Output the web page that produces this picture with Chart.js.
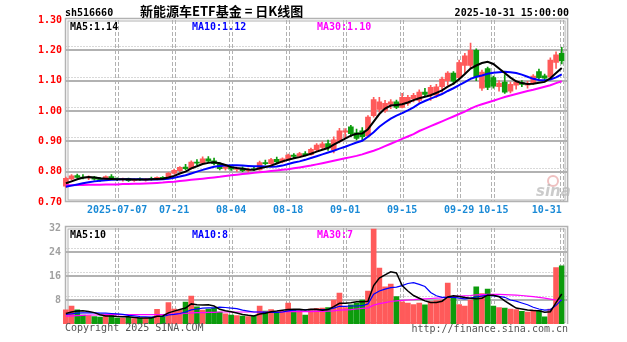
<!DOCTYPE html>
<html lang="zh-CN">
<head>
<meta charset="UTF-8">
<title>sh516660 日K线图</title>
<script src="https://cdn.jsdelivr.net/npm/chart.js@4"></script>
<style>
  body { margin: 0; background: #fff; }
  .wrap { position: relative; width: 627px; height: 342px; }
  #kline { position: absolute; left: 0; top: 0; }
  #volume { position: absolute; left: 0; top: 215px; }
</style>
</head>
<body>
<div class="wrap">
  <canvas id="kline" width="627" height="215"></canvas>
  <canvas id="volume" width="627" height="127"></canvas>
</div>
<script>
// quote header
const symbol = 'sh516660';
const chartTitle = '新能源车ETF基金 = 日K线图';
const quoteTime = '2025-10-31 15:00:00';

// trading days
const dates = [
  '2025-06-24','2025-06-25','2025-06-26','2025-06-27','2025-06-30',
  '2025-07-01','2025-07-02','2025-07-03','2025-07-04',
  '2025-07-07','2025-07-08','2025-07-09','2025-07-10','2025-07-11',
  '2025-07-14','2025-07-15','2025-07-16','2025-07-17','2025-07-18',
  '2025-07-21','2025-07-22','2025-07-23','2025-07-24','2025-07-25',
  '2025-07-28','2025-07-29','2025-07-30','2025-07-31','2025-08-01',
  '2025-08-04','2025-08-05','2025-08-06','2025-08-07','2025-08-08',
  '2025-08-11','2025-08-12','2025-08-13','2025-08-14','2025-08-15',
  '2025-08-18','2025-08-19','2025-08-20','2025-08-21','2025-08-22',
  '2025-08-25','2025-08-26','2025-08-27','2025-08-28','2025-08-29',
  '2025-09-01','2025-09-02','2025-09-03','2025-09-04','2025-09-05',
  '2025-09-08','2025-09-09','2025-09-10','2025-09-11','2025-09-12',
  '2025-09-15','2025-09-16','2025-09-17','2025-09-18','2025-09-19',
  '2025-09-22','2025-09-23','2025-09-24','2025-09-25','2025-09-26',
  '2025-09-29','2025-09-30','2025-10-09','2025-10-10',
  '2025-10-13','2025-10-14','2025-10-15','2025-10-16','2025-10-17',
  '2025-10-20','2025-10-21','2025-10-22','2025-10-23','2025-10-24',
  '2025-10-27','2025-10-28','2025-10-29','2025-10-30','2025-10-31'
];

// dates that get a tick label and a vertical grid line
const labelDates = ['2025-07-07','2025-07-21','2025-08-04','2025-08-18','2025-09-01',
                    '2025-09-15','2025-09-29','2025-10-15','2025-10-31'];
const tickLabels = ['2025-07-07','07-21','08-04','08-18','09-01','09-15','09-29','10-15','10-31'];

const priceTicks = [0.70, 0.80, 0.90, 1.00, 1.10, 1.20, 1.30];
const volumeTicks = [0, 8, 16, 24, 32];

const open = [
  .752,.776,.787,.782,.779,.782,.775,.771,.784,.776,
  .774,.777,.770,.775,.772,.776,.774,.780,.779,.795,
  .803,.815,.810,.831,.828,.842,.836,.825,.811,.816,
  .807,.812,.803,.808,.806,.830,.826,.841,.832,.842,
  .855,.850,.860,.856,.872,.880,.893,.872,.900,.930,
  .948,.928,.935,.918,.985,1.005,1.000,1.022,1.030,1.012,
  1.025,1.040,1.035,1.062,1.055,1.052,1.080,1.100,1.125,1.110,
  1.150,1.150,1.200,1.075,1.140,1.110,1.080,1.095,1.065,1.085,
  1.094,1.085,1.092,1.130,1.116,1.112,1.160,1.190
];
const high = [
  .782,.790,.792,.790,.786,.785,.781,.786,.790,.780,
  .779,.779,.777,.780,.778,.782,.783,.784,.797,.808,
  .817,.824,.836,.840,.849,.850,.845,.830,.822,.820,
  .815,.816,.812,.814,.835,.838,.844,.848,.846,.858,
  .860,.864,.866,.878,.893,.898,.904,.915,.943,.942,
  .953,.940,.945,.985,1.045,1.045,1.035,1.038,1.036,1.058,
  1.052,1.058,1.070,1.075,1.085,1.088,1.112,1.130,1.130,1.168,
  1.190,1.224,1.205,1.135,1.145,1.115,1.100,1.120,1.095,1.100,
  1.100,1.098,1.120,1.138,1.122,1.175,1.195,1.210
];
const low = [
  .748,.772,.779,.776,.774,.772,.768,.770,.774,.770,
  .769,.768,.768,.771,.769,.772,.773,.774,.778,.792,
  .800,.806,.808,.822,.826,.830,.822,.806,.805,.804,
  .801,.800,.798,.803,.805,.822,.824,.828,.829,.838,
  .846,.847,.852,.854,.868,.876,.870,.862,.895,.912,
  .915,.905,.904,.915,.980,.996,.995,1.008,1.008,1.010,
  1.018,1.030,1.028,1.050,1.035,1.045,1.062,1.085,1.088,1.105,
  1.125,1.140,1.100,1.068,1.070,1.075,1.065,1.058,1.060,1.072,
  1.080,1.075,1.088,1.105,1.100,1.110,1.140,1.155
];
const close = [
  .778,.786,.781,.779,.783,.775,.771,.784,.776,.774,
  .777,.770,.775,.773,.776,.774,.781,.778,.795,.804,
  .814,.810,.832,.828,.842,.835,.826,.810,.816,.808,
  .812,.803,.808,.806,.830,.826,.840,.832,.842,.855,
  .850,.860,.856,.874,.888,.892,.878,.905,.935,.935,
  .925,.910,.915,.980,1.038,1.030,1.025,1.030,1.012,1.045,
  1.045,1.052,1.062,1.055,1.078,1.080,1.105,1.125,1.098,1.160,
  1.182,1.200,1.112,1.128,1.078,1.082,1.092,1.062,1.088,1.095,
  1.088,1.090,1.115,1.110,1.108,1.168,1.185,1.165
];

// price moving averages
const ma5 = [
  .762,.768,.775,.780,.782,.781,.778,.777,.776,.775,
  .775,.775,.774,.774,.774,.775,.776,.777,.781,.786,
  .794,.800,.811,.818,.825,.829,.831,.828,.822,.815,
  .812,.810,.807,.806,.811,.815,.820,.827,.834,.839,
  .844,.848,.853,.859,.866,.872,.878,.889,.899,.909,
  .919,.925,.926,.940,.965,.990,1.008,1.018,1.020,1.022,
  1.028,1.036,1.042,1.047,1.052,1.060,1.068,1.080,1.090,1.105,
  1.122,1.140,1.150,1.158,1.162,1.155,1.140,1.125,1.110,1.098,
  1.092,1.089,1.090,1.093,1.096,1.108,1.125,1.142
];
const ma10 = [
  .750,.754,.758,.762,.765,.768,.770,.772,.773,.774,
  .775,.775,.775,.775,.774,.774,.774,.775,.777,.780,
  .784,.788,.794,.800,.806,.811,.816,.819,.820,.821,
  .821,.820,.819,.818,.818,.817,.816,.817,.820,.825,
  .830,.834,.839,.845,.851,.857,.863,.869,.876,.882,
  .889,.896,.902,.915,.930,.948,.962,.975,.985,.993,
  1.002,1.012,1.024,1.033,1.041,1.048,1.056,1.066,1.075,1.085,
  1.095,1.106,1.113,1.117,1.123,1.126,1.128,1.129,1.128,1.125,
  1.120,1.113,1.106,1.102,1.101,1.104,1.111,1.121
];
const ma30 = [
  .755,.755,.756,.756,.757,.757,.757,.758,.758,.758,
  .759,.759,.760,.760,.761,.762,.763,.764,.766,.767,
  .769,.771,.773,.775,.777,.779,.781,.783,.786,.788,
  .790,.792,.794,.796,.798,.800,.802,.804,.806,.808,
  .811,.814,.817,.820,.824,.828,.832,.836,.840,.844,
  .848,.852,.857,.863,.869,.876,.884,.892,.900,.908,
  .916,.924,.934,.942,.950,.958,.966,.974,.982,.990,
  .998,1.008,1.016,1.022,1.028,1.034,1.040,1.046,1.051,1.056,
  1.061,1.066,1.070,1.075,1.080,1.085,1.092,1.098
];

// volume (万手) and its averages
const volume = [
  4.7,6.0,4.7,3.0,2.8,2.5,2.3,3.0,2.8,2.0,
  2.0,2.2,1.8,2.0,1.9,2.2,4.9,2.5,7.1,5.0,
  4.6,7.3,9.3,5.7,4.6,5.0,5.2,4.0,3.4,3.0,
  2.8,2.6,2.5,2.7,6.0,4.3,4.8,3.8,4.2,7.0,
  4.6,4.7,3.0,5.0,5.2,5.3,5.5,8.0,10.3,5.5,
  6.4,7.0,8.0,11.0,31.6,18.6,12.4,13.3,9.1,7.4,
  7.0,6.5,7.0,6.4,7.5,7.8,8.0,13.6,9.1,6.5,
  6.0,8.0,12.4,10.1,11.6,6.0,5.5,5.3,5.0,4.8,
  4.2,4.0,4.6,4.5,2.4,5.0,18.8,19.4
];
const volMa5 = [
  3.5,4.0,4.3,4.4,4.2,3.8,3.1,2.7,2.7,2.5,
  2.4,2.4,2.2,2.0,2.0,2.0,2.6,2.7,3.7,4.3,
  4.8,5.3,6.7,6.4,6.3,6.4,6.0,4.9,4.4,4.1,
  3.7,3.2,2.9,2.7,3.3,3.6,4.1,4.3,4.6,4.8,
  4.9,4.9,4.7,4.9,4.9,4.6,4.8,5.8,6.9,6.9,
  7.1,7.4,7.4,7.6,12.8,15.3,16.4,17.4,17.0,12.8,
  11.0,9.5,8.6,7.7,7.2,7.2,7.6,9.0,9.4,9.2,
  8.8,8.6,8.4,8.6,9.6,9.6,9.1,7.7,6.5,5.3,
  5.0,4.7,4.5,4.4,3.9,4.1,7.1,10.0
];
const volMa10 = [
  3.2,3.4,3.6,3.7,3.7,3.7,3.6,3.6,3.5,3.4,
  3.2,2.9,2.7,2.5,2.4,2.3,2.5,2.5,3.0,3.2,
  3.5,4.0,4.7,5.0,5.3,5.4,5.4,5.6,5.5,5.3,
  5.1,4.6,4.3,4.0,4.0,3.9,3.9,3.9,4.0,4.4,
  4.6,4.8,4.7,4.8,4.8,4.8,4.9,5.3,5.9,5.9,
  6.0,6.0,6.1,6.7,9.9,11.0,11.6,12.1,12.3,12.8,
  13.5,13.8,13.2,12.5,10.5,9.4,8.9,8.9,8.9,8.6,
  8.4,8.6,9.0,9.3,9.6,9.4,9.2,8.9,8.0,7.6,
  7.0,6.4,5.6,5.0,4.6,4.8,6.2,8.1
];
const volMa30 = [
  2.6,2.7,2.8,2.9,3.0,3.0,3.0,3.1,3.1,3.1,
  3.1,3.1,3.1,3.1,3.1,3.1,3.1,3.1,3.2,3.3,
  3.4,3.5,3.7,3.8,3.8,3.9,3.9,4.0,4.0,4.0,
  4.0,4.0,4.0,4.0,4.0,4.0,4.0,4.0,4.0,4.1,
  4.1,4.1,4.1,4.1,4.2,4.2,4.3,4.4,4.6,4.7,
  4.8,5.0,5.2,5.4,6.3,6.8,7.1,7.5,7.7,7.9,
  8.0,8.1,8.3,8.4,8.5,8.6,8.7,9.0,9.2,9.3,
  9.4,9.5,9.7,9.8,9.9,9.9,9.9,9.8,9.7,9.6,
  9.5,9.3,9.1,8.9,8.6,8.3,8.0,7.9
];

const UP = '#ff5a5a', DOWN = '#0c9c0c';
const GRID = '#b2b2b2';
const MONO = 'bold 10px "DejaVu Sans Mono"';
const candleColor = dates.map((d, i) => close[i] >= open[i] ? UP : DOWN);
const last = arr => arr[arr.length - 1];

function seg(ctx, x1, y1, x2, y2) {
  ctx.beginPath();
  ctx.moveTo(x1, y1);
  ctx.lineTo(x2, y2);
  ctx.stroke();
}

// grid: solid + dotted horizontal pairs, dashed double verticals, double frame
const panelGrid = {
  id: 'panelGrid',
  beforeDatasetsDraw(chart, args, opts) {
    const { ctx, chartArea: a, scales: { x, y } } = chart;
    const L = a.left + 2.5, R = a.right + 3;
    ctx.save();
    ctx.strokeStyle = GRID;
    y.ticks.forEach(t => {
      const py = Math.round(y.getPixelForValue(t.value));
      if (py <= a.top + 3 || py >= a.bottom - 3) return;
      ctx.setLineDash([]);
      ctx.lineWidth = 2;
      seg(ctx, L, py, R, py);
      ctx.lineWidth = 1;
      ctx.setLineDash([1, 2]);
      seg(ctx, L, py - 3.5, R, py - 3.5);
    });
    ctx.lineWidth = 1;
    ctx.setLineDash([4, 2]);
    labelDates.forEach(d => {
      const px = Math.round(x.getPixelForValue(dates.indexOf(d)));
      seg(ctx, px - 1.5, a.top, px - 1.5, a.bottom);
      seg(ctx, px + 1.5, a.top, px + 1.5, a.bottom);
    });
    ctx.setLineDash([]);
    ctx.lineWidth = 1.5;
    const top = a.top - 1.5, bottom = opts.openBottom ? a.bottom : a.bottom - 0.5;
    ctx.beginPath();
    ctx.moveTo(L, bottom);
    ctx.lineTo(L, top);
    ctx.lineTo(R, top);
    ctx.lineTo(R, bottom);
    if (!opts.openBottom) ctx.closePath();
    ctx.stroke();
    ctx.lineWidth = 1;
    ctx.strokeRect(L + 2.5, top + 2.5, R - L - 5, bottom - top - 4);
    ctx.restore();
  }
};

// header line, MA readouts and watermark of the price panel
const priceText = {
  id: 'priceText',
  afterDraw(chart) {
    const { ctx } = chart;
    ctx.save();
    ctx.textBaseline = 'alphabetic';
    ctx.font = MONO;
    ctx.fillStyle = '#000';
    ctx.fillText(symbol, 65, 16);
    ctx.font = 'bold 13px "Noto Sans CJK SC"';
    ctx.fillText(chartTitle, 140, 16);
    ctx.font = MONO;
    ctx.textAlign = 'right';
    ctx.fillText(quoteTime, 569, 16);
    ctx.textAlign = 'left';
    ctx.fillStyle = '#000';
    ctx.fillText('MA5:' + last(ma5).toFixed(2), 70, 30);
    ctx.fillStyle = '#0000ff';
    ctx.fillText('MA10:' + last(ma10).toFixed(2), 192, 30);
    ctx.fillStyle = '#ff00ff';
    ctx.fillText('MA30:' + last(ma30).toFixed(2), 317, 30);
    // sina watermark
    ctx.strokeStyle = 'rgba(225,140,140,0.55)';
    ctx.lineWidth = 2;
    ctx.beginPath();
    ctx.arc(553, 181, 5, 0, Math.PI * 2);
    ctx.stroke();
    ctx.font = 'italic bold 15px "DejaVu Sans"';
    ctx.fillStyle = 'rgba(185,185,185,0.75)';
    ctx.fillText('sina', 536, 196);
    ctx.restore();
  }
};

// MA readouts of the volume panel and the footer
const volumeText = {
  id: 'volumeText',
  afterDraw(chart) {
    const { ctx, chartArea: a } = chart;
    ctx.save();
    ctx.font = MONO;
    ctx.textBaseline = 'alphabetic';
    ctx.fillStyle = '#000';
    ctx.fillText('MA5:' + Math.floor(last(volMa5)), 70, 23);
    ctx.fillStyle = '#0000ff';
    ctx.fillText('MA10:' + Math.floor(last(volMa10)), 192, 23);
    ctx.fillStyle = '#ff00ff';
    ctx.fillText('MA30:' + Math.floor(last(volMa30)), 317, 23);
    ctx.font = '10px "DejaVu Sans Mono"';
    ctx.fillStyle = '#555';
    ctx.fillText('Copyright 2025 SINA.COM', 65, a.bottom + 7);
    ctx.textAlign = 'right';
    ctx.fillText('http://finance.sina.com.cn', 568, a.bottom + 8);
    ctx.restore();
  }
};

function maLine(label, data, color, width) {
  return { type: 'line', label, data, borderColor: color, borderWidth: width,
           pointRadius: 0, tension: 0, order: 0 };
}

const flatAxis = { grid: { display: false, drawTicks: false }, border: { display: false } };

new Chart(document.getElementById('kline'), {
  type: 'bar',
  data: {
    labels: dates,
    datasets: [
      maLine('MA5', ma5, '#000000', 2),
      maLine('MA10', ma10, '#0000ff', 2),
      maLine('MA30', ma30, '#ff00ff', 2),
      { label: 'body', data: dates.map((d, i) => [open[i], close[i]]),
        backgroundColor: candleColor, barThickness: 5, minBarLength: 1, grouped: false, order: 1 },
      { label: 'wick', data: dates.map((d, i) => [low[i], high[i]]),
        backgroundColor: candleColor, barThickness: 1, grouped: false, order: 2 }
    ]
  },
  options: {
    responsive: false,
    animation: false,
    layout: { padding: { top: 20, right: 62.4, bottom: 0, left: 0 } },
    plugins: { legend: { display: false }, tooltip: { enabled: false }, panelGrid: {} },
    scales: {
      x: {
        ...flatAxis,
        offset: true,
        ticks: {
          autoSkip: false, maxRotation: 0, align: 'inner', padding: 2,
          color: '#1a8ad6', font: { family: 'DejaVu Sans Mono', size: 10, weight: 'bold' },
          callback: (v, i) => {
            const k = labelDates.indexOf(dates[i]);
            return k >= 0 ? tickLabels[k] : '';
          }
        },
        afterFit: s => { s.height = 13; }
      },
      y: {
        ...flatAxis,
        min: 0.7, max: 1.3,
        afterBuildTicks: s => { s.ticks = priceTicks.map(v => ({ value: v })); },
        ticks: {
          padding: 1, color: '#ff0000',
          font: { family: 'DejaVu Sans Mono', size: 10, weight: 'bold' },
          callback: v => v.toFixed(2)
        },
        afterFit: s => { s.width = 63; }
      }
    }
  },
  plugins: [panelGrid, priceText]
});

new Chart(document.getElementById('volume'), {
  type: 'bar',
  data: {
    labels: dates,
    datasets: [
      maLine('MA5', volMa5, '#000000', 1.5),
      maLine('MA10', volMa10, '#0000ff', 1.2),
      maLine('MA30', volMa30, '#ff00ff', 1.2),
      { label: 'volume', data: volume, backgroundColor: candleColor, barThickness: 5, order: 1 }
    ]
  },
  options: {
    responsive: false,
    animation: false,
    layout: { padding: { top: 13, right: 62.4, bottom: 18, left: 0 } },
    plugins: { legend: { display: false }, tooltip: { enabled: false }, panelGrid: { openBottom: true } },
    scales: {
      x: { ...flatAxis, display: false, offset: true },
      y: {
        ...flatAxis,
        min: 0, max: 32,
        afterBuildTicks: s => { s.ticks = volumeTicks.map(v => ({ value: v })); },
        ticks: {
          padding: 2, color: '#a0a0a0',
          font: { family: 'DejaVu Sans Mono', size: 10, weight: 'bold' },
          callback: v => v === 0 ? '' : String(v)
        },
        afterFit: s => { s.width = 63; }
      }
    }
  },
  plugins: [panelGrid, volumeText]
});
</script>
</body>
</html>
